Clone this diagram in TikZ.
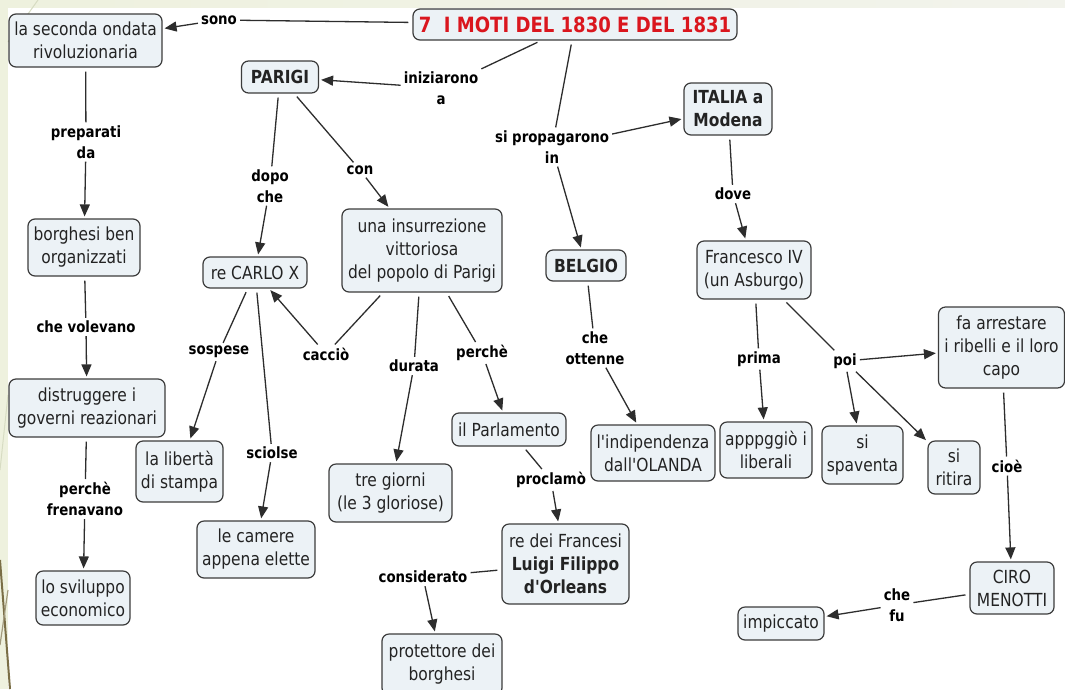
\documentclass[tikz,border=0pt]{standalone}
\usepackage{fontspec}
\setmainfont[FakeStretch=0.86,Ligatures=TeXOff]{DejaVu Sans}
\usetikzlibrary{arrows.meta}
\definecolor{boxfill}{RGB}{236,242,246}
\definecolor{boxborder}{RGB}{60,60,60}
\definecolor{boxtext}{RGB}{35,35,35}
\definecolor{linecol}{RGB}{45,45,45}
\definecolor{titlered}{RGB}{218,22,30}
\definecolor{bgpale}{RGB}{238,241,222}
\definecolor{olive}{RGB}{122,110,70}
\definecolor{faint}{RGB}{215,220,195}
\tikzset{
  cbox/.style={draw=boxborder, fill=boxfill, rounded corners=7pt, line width=1.2pt,
    align=center, font=\fontsize{18}{23}\selectfont, text=boxtext, inner sep=0pt},
  cboxb/.style={cbox, font=\bfseries\fontsize{18}{23}\selectfont},
  lbl/.style={font=\bfseries\fontsize{15.5}{21}\selectfont, align=center, inner sep=3pt, text=black},
  ln/.style={draw=linecol, line width=1.3pt, shorten <=4pt},
  arr/.style={draw=linecol, line width=1.3pt, -{Triangle[length=12pt,width=10pt]}, shorten >=2pt}
}
\begin{document}
\begin{tikzpicture}[x=1pt,y=-1pt]
\useasboundingbox (0,0) rectangle (1065,689);
% background
\fill[bgpale] (0,0) rectangle (1065,689);
\shade[left color=bgpale, right color={rgb,255:red,242;green,243;blue,236}] (0,0) rectangle (1065,8);
\fill[white] (8,8) rectangle (1065,689);
\draw[faint, line width=1pt] (38,0) -- (8,42);
\draw[faint, line width=1pt] (8,395) -- (0,470);
\draw[olive, line width=2pt] (0,560) -- (10,689);
\draw[olive!70, line width=1.2pt] (8,590) -- (0,645);

% concept boxes
\node[cboxb, text=titlered, font=\bfseries\fontsize{21}{25}\selectfont, minimum width=324, minimum height=31] (title) at (575,24.5) {7\ \ I MOTI DEL 1830 E DEL 1831};
\node[cbox, minimum width=153, minimum height=53] (ondata) at (85.5,40.5) {la seconda ondata\\rivoluzionaria};
\node[cboxb, minimum width=77, minimum height=32] (parigi) at (280,77) {PARIGI};
\node[cboxb, minimum width=88, minimum height=52] (italia) at (728,109) {ITALIA a\\Modena};
\node[cbox, minimum width=112, minimum height=57] (borghesi) at (84,247.5) {borghesi ben\\organizzati};
\node[cbox, minimum width=104, minimum height=31] (carlo) at (255,272.5) {re CARLO X};
\node[cbox, minimum width=160, minimum height=83] (insur) at (422,250.5) {una insurrezione\\vittoriosa\\del popolo di Parigi};
\node[cboxb, minimum width=80, minimum height=31] (belgio) at (586,265.5) {BELGIO};
\node[cbox, minimum width=114, minimum height=58] (franc) at (754,270) {Francesco IV\\(un Asburgo)};
\node[cbox, minimum width=126, minimum height=81] (arrest) at (1001.5,347.5) {fa arrestare\\i ribelli e il loro\\capo};
\node[cbox, minimum width=156, minimum height=58] (distr) at (87,408) {distruggere i\\governi reazionari};
\node[cbox, minimum width=87, minimum height=61] (liberta) at (179.5,471.5) {la libertà\\di stampa};
\node[cbox, minimum width=118, minimum height=57] (camere) at (256,549.5) {le camere\\appena elette};
\node[cbox, minimum width=123, minimum height=58] (tre) at (390.5,493) {tre giorni\\(le 3 gloriose)};
\node[cbox, minimum width=114, minimum height=33] (parl) at (509,429.5) {il Parlamento};
\node[cbox, minimum width=124, minimum height=56] (indip) at (653,453) {l'indipendenza\\dall'OLANDA};
\node[cbox, minimum width=92, minimum height=56] (appo) at (766,450) {apppggiò i\\liberali};
\node[cbox, minimum width=81, minimum height=58] (spav) at (862.5,455) {si\\spaventa};
\node[cbox, minimum width=52, minimum height=53] (ritira) at (954,467.5) {si\\ritira};
\node[cbox, minimum width=94, minimum height=54] (svil) at (83,598) {lo sviluppo\\economico};
\node[cbox, minimum width=127, minimum height=80] (re) at (565.5,564) {re dei Francesi\\\textbf{Luigi Filippo}\\\textbf{d'Orleans}};
\node[cbox, minimum width=84, minimum height=52] (ciro) at (1012,588) {CIRO\\MENOTTI};
\node[cbox, minimum width=86, minimum height=33] (impicc) at (781,623.5) {impiccato};
\node[cbox, minimum width=120, minimum height=61] (prot) at (442,664.5) {protettore dei\\borghesi};

% linking phrases
\node[lbl] (sono) at (219,20) {sono};
\node[lbl] (prep) at (86,142) {preparati\\da};
\node[lbl] (chevol) at (86,327) {che volevano};
\node[lbl] (frenav) at (85,499) {perchè\\frenavano};
\node[lbl] (iniz) at (441,88) {iniziarono\\a};
\node[lbl] (dopo) at (270,186) {dopo\\che};
\node[lbl] (con) at (360,170) {con};
\node[lbl] (prop) at (552,147) {si propagarono\\in};
\node[lbl] (dove) at (733,194) {dove};
\node[lbl] (sosp) at (219,352) {sospese};
\node[lbl] (cacc) at (326,354) {cacciò};
\node[lbl] (sciol) at (272,453) {sciolse};
\node[lbl] (dur) at (414,366) {durata};
\node[lbl] (perche) at (482,353) {perchè};
\node[lbl] (ottenne) at (595,348) {che\\ottenne};
\node[lbl] (prima) at (759,359) {prima};
\node[lbl] (poi) at (845,361) {poi};
\node[lbl] (cioe) at (1007,466) {cioè};
\node[lbl] (procl) at (551,480) {proclamò};
\node[lbl] (consid) at (423,577) {considerato};
\node[lbl] (chefu) at (897,605) {che\\fu};

% connectors
\draw[ln] (title) -- (sono);   \draw[arr] (sono) -- (ondata);
\draw[ln] (title) -- (iniz);   \draw[arr] (iniz) -- (parigi);
\draw[ln] (title) -- (prop);   \draw[arr] (prop) -- (italia);
\draw[arr] (prop) -- (belgio);
\draw[ln] (ondata) -- (prep);  \draw[arr] (prep) -- (borghesi);
\draw[ln] (borghesi) -- (chevol); \draw[arr] (chevol) -- (distr);
\draw[ln] (distr) -- (frenav); \draw[arr] (frenav) -- (svil);
\draw[ln] (parigi) -- (dopo);  \draw[arr] (dopo) -- (carlo);
\draw[ln] (parigi) -- (con);   \draw[arr] (con) -- (insur);
\draw[ln] (insur) -- (cacc);   \draw[arr] (cacc) -- (carlo);
\draw[ln] (carlo) -- (sosp);   \draw[arr] (sosp) -- (liberta);
\draw[ln] (carlo) -- (sciol);  \draw[arr] (sciol) -- (camere);
\draw[ln] (insur) -- (dur);    \draw[arr] (dur) -- (tre);
\draw[ln] (insur) -- (perche); \draw[arr] (perche) -- (parl);
\draw[ln] (parl) -- (procl);   \draw[arr] (procl) -- (re);
\draw[ln] (re) -- (consid);    \draw[arr] (consid) -- (prot);
\draw[ln] (italia) -- (dove);  \draw[arr] (dove) -- (franc);
\draw[ln] (belgio) -- (ottenne); \draw[arr] (ottenne) -- (indip);
\draw[ln] (franc) -- (prima);  \draw[arr] (prima) -- (appo);
\draw[ln] (franc) -- (poi);
\draw[arr] (poi) -- (arrest);
\draw[arr] (poi) -- (spav);
\draw[arr] (poi) -- (ritira);
\draw[ln] (arrest) -- (cioe);  \draw[arr] (cioe) -- (ciro);
\draw[ln] (ciro) -- (chefu);   \draw[arr] (chefu) -- (impicc);
\end{tikzpicture}
\end{document}
